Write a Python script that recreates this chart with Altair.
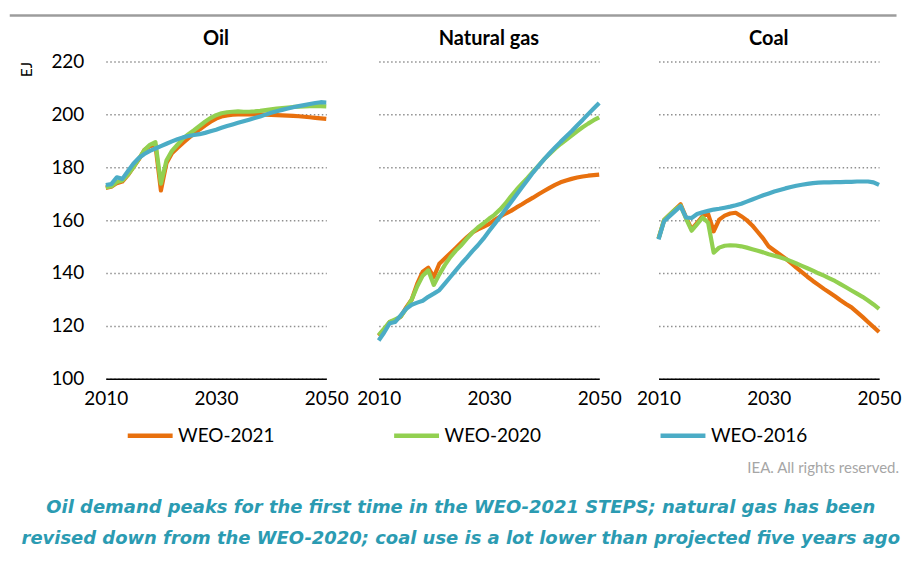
import altair as alt
import pandas as pd

years = list(range(2010, 2051))
scenarios = ["WEO-2021", "WEO-2020", "WEO-2016"]
colors = ["#E8700E", "#92D050", "#4BACC6"]
fuels = ["Oil", "Natural gas", "Coal"]
y_ticks = [100, 120, 140, 160, 180, 200, 220]
x_ticks = [2010, 2030, 2050]
caption = [
    "Oil demand peaks for the first time in the WEO-2021 STEPS; natural gas has been",
    "revised down from the WEO-2020; coal use is a lot lower than projected five years ago",
]
credit = ["IEA. All rights reserved."]

oil_2021 = [172.2, 172.6, 174.0, 174.6, 177.0, 180.0, 183.0, 186.5, 188.0, 188.5,
            171.2, 181.5, 185.3, 187.3, 189.2, 191.0, 192.7, 194.3, 195.8, 197.2,
            198.4, 199.2, 199.6, 199.9, 200.0, 200.0, 200.0, 200.0, 200.0, 199.9,
            199.8, 199.7, 199.6, 199.5, 199.4, 199.3, 199.1, 198.9, 198.7, 198.5, 198.3]
oil_2020 = [172.4, 172.8, 174.4, 175.0, 177.2, 180.0, 183.2, 186.5, 188.5, 189.5,
            173.8, 182.5, 186.2, 188.5, 190.8, 192.5, 194.0, 195.6, 197.2, 198.6,
            199.7, 200.4, 200.8, 201.0, 201.1, 201.0, 201.0, 201.1, 201.3, 201.6,
            201.9, 202.2, 202.4, 202.6, 202.8, 202.9, 203.0, 203.1, 203.1, 203.1, 203.0]
oil_2016 = [173.3, 173.6, 176.2, 175.6, 178.5, 181.3, 183.5, 185.0, 186.2, 187.1,
            188.0, 188.9, 189.8, 190.6, 191.3, 191.8, 192.2, 192.5, 193.0, 193.6,
            194.2, 194.9, 195.6, 196.2, 196.8, 197.4, 198.0, 198.6, 199.2, 199.9,
            200.6, 201.2, 201.7, 202.2, 202.7, 203.1, 203.5, 203.9, 204.3, 204.6, 204.5]

gas_2021 = [116.2, 118.5, 121.5, 122.0, 123.5, 127.0, 130.0, 136.0, 140.5, 142.0,
            138.5, 143.5, 145.5, 147.5, 149.5, 151.5, 153.5, 155.3, 156.5, 157.5,
            158.5, 160.0, 161.3, 162.5, 163.5, 164.8, 166.0, 167.3, 168.5, 169.8,
            171.0, 172.2, 173.3, 174.3, 175.0, 175.6, 176.1, 176.5, 176.8, 177.0, 177.2]
gas_2020 = [116.5, 119.0, 121.5, 122.5, 123.5, 126.5, 130.0, 135.0, 139.0, 141.0,
            135.5, 139.5, 143.0, 146.0, 148.5, 150.5, 153.0, 155.3, 157.2, 158.8,
            160.5, 162.0, 164.0, 166.3, 169.0, 171.5, 173.8, 176.0, 178.3, 180.6,
            183.0, 185.0, 187.0, 188.8, 190.4, 192.0, 193.6, 195.1, 196.5, 197.8, 198.9]
gas_2016 = [114.5, 117.5, 121.0, 121.5, 124.0, 126.5, 128.0, 128.8, 129.5, 131.0,
            132.2, 133.5, 136.0, 138.5, 141.0, 143.5, 145.8, 148.3, 150.5, 153.0,
            155.8, 158.5, 161.2, 164.0, 166.8, 169.6, 172.4, 175.2, 178.0, 180.5,
            183.0, 185.3, 187.5, 189.6, 191.6, 193.6, 195.8, 197.9, 200.1, 202.2, 204.3]

coal_2021 = [153.0, 160.0, 162.0, 164.0, 166.0, 161.0, 156.5, 159.0, 161.5, 162.3,
             155.8, 160.2, 161.7, 162.5, 162.8, 161.5, 160.0, 158.0, 155.5, 153.0,
             150.0, 148.5, 147.0, 145.5, 143.8, 142.0, 140.3, 138.6, 137.0, 135.5,
             134.0, 132.6, 131.2, 129.7, 128.3, 127.0, 125.2, 123.4, 121.5, 119.6, 117.7]
coal_2020 = [153.0, 160.0, 162.0, 164.0, 165.5, 160.5, 156.0, 158.5, 161.0, 159.0,
             147.7, 149.6, 150.3, 150.5, 150.4, 150.1, 149.6, 149.0, 148.4, 147.8,
             147.1, 146.5, 146.0, 145.3, 144.5, 143.6, 142.7, 141.8, 140.9, 139.9,
             139.0, 138.0, 137.0, 135.8, 134.6, 133.4, 132.2, 131.0, 129.6, 128.1, 126.4]
coal_2016 = [152.7, 159.6, 161.5, 163.4, 165.3, 161.0, 160.8, 162.3, 163.0, 163.5,
             164.0, 164.3, 164.7, 165.1, 165.6, 166.2, 167.0, 167.8, 168.6, 169.4,
             170.1, 170.8, 171.4, 172.0, 172.5, 173.0, 173.4, 173.7, 174.0, 174.2,
             174.3, 174.3, 174.4, 174.4, 174.5, 174.5, 174.6, 174.6, 174.6, 174.3, 173.3]

series = {
    "Oil": [oil_2021, oil_2020, oil_2016],
    "Natural gas": [gas_2021, gas_2020, gas_2016],
    "Coal": [coal_2021, coal_2020, coal_2016],
}

rows = []
for fuel in fuels:
    for sc, vals in zip(scenarios, series[fuel]):
        for yr, v in zip(years, vals):
            rows.append({"fuel": fuel, "scenario": sc, "year": yr, "value": v})
df = pd.DataFrame(rows)

FONT = "Lato"
PW = 221   # plotted x range of each panel
H = 318
GRID = dict(grid=True, gridDash=[1.5, 2.5], gridColor="#8f8f8f", gridWidth=1.5,
            domain=False, ticks=False)

legend = alt.Legend(
    orient="none", legendX=19.5, legendY=350, direction="horizontal", title=None,
    symbolType="stroke", symbolSize=2025, symbolStrokeWidth=4.5,
    labelFont=FONT, labelFontSize=19, labelColor="black", labelOffset=3,
    columnPadding=110, padding=0,
)


def panel(fuel, width, first=False, last=False):
    d = df[df.fuel == fuel]
    if first:
        yaxis = alt.Axis(values=y_ticks, labelFont=FONT, labelFontSize=19, labelColor="black",
                         labelPadding=22, title="EJ", titleFont=FONT, titleFontSize=15,
                         titleFontWeight="normal", titleColor="black", titleAnchor="end",
                         titlePadding=16, **GRID)
    else:
        yaxis = alt.Axis(values=y_ticks, labels=False, title=None, **GRID)
    lines = alt.Chart(d).mark_line(strokeWidth=4.2, strokeJoin="round").encode(
        x=alt.X("year:Q", scale=alt.Scale(domain=[2010, 2050], range=[0, PW], nice=False, zero=False),
                axis=alt.Axis(values=x_ticks, format="d", labelFlush=False, labelOverlap=False,
                              grid=False, ticks=False, domain=True, domainColor="black",
                              domainWidth=1.5, labelFont=FONT, labelFontSize=19,
                              labelColor="black", labelPadding=11),
                title=None),
        y=alt.Y("value:Q", scale=alt.Scale(domain=[100, 220], nice=False, zero=False),
                axis=yaxis),
        color=alt.Color("scenario:N", scale=alt.Scale(domain=scenarios, range=colors),
                        sort=scenarios, legend=legend),
    )
    name = alt.Chart(pd.DataFrame({"fuel": [fuel]})).mark_text(
        font=FONT, fontSize=20, fontWeight="bold", color="black", baseline="middle", align="center"
    ).encode(text="fuel:N", x=alt.value(PW / 2), y=alt.value(-23))
    layers = [lines, name]
    if first:
        topline = alt.Chart(pd.DataFrame({"k": [0]})).mark_rule(
            color="#9c9c9c", strokeWidth=2.5
        ).encode(x=alt.value(-96.25), x2=alt.value(792.5), y=alt.value(-46))
        layers.append(topline)
    if last:
        iea = alt.Chart(pd.DataFrame({"t": credit})).mark_text(
            font=FONT, fontSize=15, color="#a6a6a6", align="right", baseline="middle"
        ).encode(text="t:N", x=alt.value(241), y=alt.value(407))
        layers.append(iea)
    return alt.layer(*layers).properties(width=width, height=H)


oil = panel("Oil", 221, first=True)
gas = panel("Natural gas", 227.5)
coal = panel("Coal", 221, last=True)

chart = alt.hconcat(oil, gas, coal, spacing=52.5, bounds="flush").properties(
    title=alt.TitleParams(
        caption, orient="bottom", anchor="middle", font="DejaVu Sans", fontSize=18,
        fontStyle="italic", fontWeight="bold", color="#2B9BB2", lineHeight=31,
        offset=24, dx=6,
    ),
    padding={"left": 0, "top": 5, "right": 0, "bottom": 0},
    background="white",
).configure_view(stroke=None)

chart.save("out.html", embed_options={"renderer": "svg", "actions": False})
